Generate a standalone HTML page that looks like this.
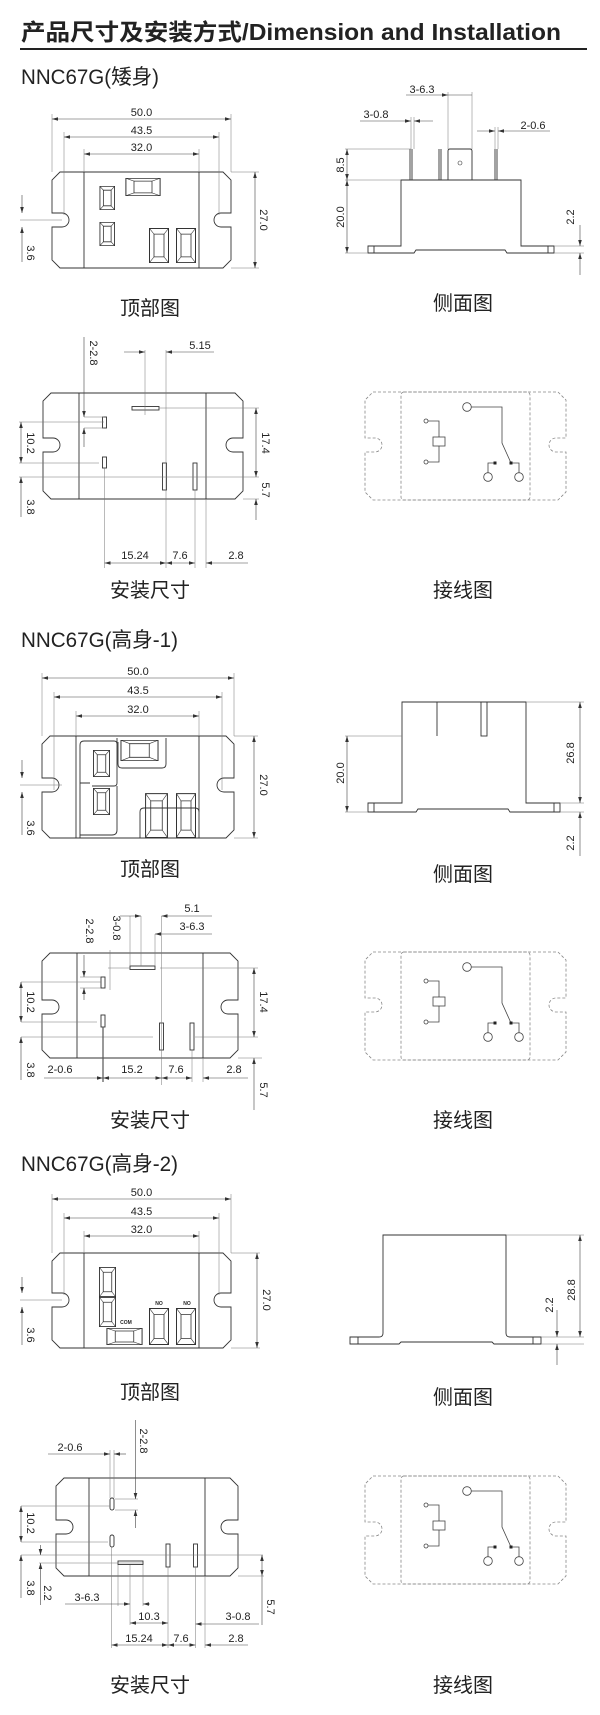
<!DOCTYPE html>
<html><head><meta charset="utf-8">
<style>
html,body{margin:0;padding:0;background:#fff;}
svg{display:block;}
text{font-family:"Liberation Sans","Noto Sans CJK SC",sans-serif;fill:#222;}
.o{fill:none;stroke:#333;stroke-width:0.9;}
.d{fill:none;stroke:#444;stroke-width:0.6;}
.e{fill:none;stroke:#777;stroke-width:0.5;}
.w{fill:none;stroke:#888;stroke-width:0.8;stroke-dasharray:3 2;}
.n{font-size:11px;}
.c{font-size:20px;text-anchor:middle;}
</style></head><body>
<svg width="600" height="1715" viewBox="0 0 600 1715" xmlns="http://www.w3.org/2000/svg">
<defs>
<marker id="a" viewBox="0 0 10 6" refX="10" refY="3" markerWidth="6" markerHeight="4" orient="auto-start-reverse" markerUnits="userSpaceOnUse"><path d="M0,0 L10,3 L0,6 Z" fill="#333"/></marker>
<symbol id="tab" viewBox="0 0 20 40" preserveAspectRatio="none">
<rect x="0.5" y="0.5" width="19" height="39" fill="none" stroke="#333" stroke-width="1" vector-effect="non-scaling-stroke"/>
<rect x="5" y="7" width="10" height="26" fill="none" stroke="#333" stroke-width="0.8" vector-effect="non-scaling-stroke"/>
<path d="M0.5,0.5 L5,7 M19.5,0.5 L15,7 M0.5,39.5 L5,33 M19.5,39.5 L15,33" stroke="#333" stroke-width="0.6" vector-effect="non-scaling-stroke"/>
</symbol>
<g id="wire">
<path class="w" d="M373,392 H558 L566,400 V438 H556 A7,7 0 0 0 556,452 H566 V492 L558,500 H373 L365,492 V452 H375 A7,7 0 0 0 375,438 H365 V400 Z"/>
<rect class="w" x="401" y="392" width="129" height="108" rx="3"/>
<g fill="none" stroke="#444" stroke-width="0.8">
<circle cx="467" cy="407" r="4.3"/>
<path d="M471.3,407 H502 V443 L511,463"/>
<circle cx="426" cy="421" r="2"/><circle cx="426" cy="462" r="2"/>
<path d="M428,421 H439 V437 M439,446 V462 H428"/>
<rect x="433" y="437" width="12" height="9"/>
<path d="M495,463 H488 V472.7 M511,463 H519 V472.7"/>
<circle cx="488" cy="477" r="4.3"/><circle cx="519" cy="477" r="4.3"/>
</g>
<rect x="493.5" y="461.5" width="3" height="3" fill="#222"/>
<rect x="509.5" y="461.5" width="3" height="3" fill="#222"/>
</g>
</defs>

<!-- Title -->
<text x="21" y="40" font-size="23" font-weight="bold" textLength="540" lengthAdjust="spacingAndGlyphs">产品尺寸及安装方式/Dimension and  Installation</text>
<line x1="20" y1="49" x2="587" y2="49" stroke="#222" stroke-width="2"/>

<!-- ============ Section 1 ============ -->
<text x="21" y="84" font-size="21" textLength="138" lengthAdjust="spacingAndGlyphs">NNC67G(矮身)</text>

<!-- top view 1 -->
<path class="o" d="M60,172 H223 L231,180 V213 H221 A7,7 0 0 0 221,227 H231 V260 L223,268 H60 L52,260 V227 H62 A7,7 0 0 0 62,213 H52 V180 Z"/>
<path class="o" d="M84,172 V268 M199,172 V268"/>
<use href="#tab" x="125" y="178" width="36" height="18" transform="rotate(0)"/>
<use href="#tab" x="99.5" y="186" width="15.5" height="24"/>
<use href="#tab" x="99.5" y="222" width="15.5" height="24"/>
<use href="#tab" x="149" y="228" width="20" height="35"/>
<use href="#tab" x="176" y="228" width="20" height="35"/>
<path class="e" d="M52,114 V172 M231,114 V172 M64,132 V215 M219,132 V215 M84,149 V172 M199,149 V172 M231,172 H259 M231,268 H259 M20,220 H62"/>
<line class="d" x1="52" y1="119" x2="231" y2="119" marker-start="url(#a)" marker-end="url(#a)"/>
<line class="d" x1="64" y1="137" x2="219" y2="137" marker-start="url(#a)" marker-end="url(#a)"/>
<line class="d" x1="84" y1="154" x2="199" y2="154" marker-start="url(#a)" marker-end="url(#a)"/>
<line class="d" x1="255" y1="172" x2="255" y2="268" marker-start="url(#a)" marker-end="url(#a)"/>
<line class="d" x1="22" y1="195" x2="22" y2="213" marker-end="url(#a)"/>
<line class="d" x1="22" y1="262" x2="22" y2="227" marker-end="url(#a)"/>
<text class="n" x="141.5" y="116" text-anchor="middle">50.0</text>
<text class="n" x="141.5" y="134" text-anchor="middle">43.5</text>
<text class="n" x="141.5" y="151" text-anchor="middle">32.0</text>
<text class="n" transform="translate(263,220) rotate(90)" text-anchor="middle" dominant-baseline="central">27.0</text>
<text class="n" transform="translate(30,253) rotate(90)" text-anchor="middle" dominant-baseline="central">3.6</text>

<!-- side view 1 -->
<path class="o" d="M368,246 H401 V180 H521 V246 H554 V253 H507 L505,250 H416 L414,253 H368 Z M374,246 V253 M548,246 V253"/>
<path class="o" d="M410,149 V180 M412,149 V180 M439,149 V180 M441,149 V180 M495,149 V180 M497,149 V180"/>
<path class="o" d="M448,180 V151 Q448,149 450,149 H470 Q472,149 472,151 V180"/>
<circle cx="460" cy="163" r="2" fill="none" stroke="#333" stroke-width="0.6"/>
<path class="e" d="M345,149 H411 M345,180 H401 M345,253 H368 M554,246 H584 M554,253 H584 M448,92 V149 M472,92 V149 M411,117 V149 M414,117 V149 M495,127 V149 M498,127 V149"/>
<line class="d" x1="347" y1="149" x2="347" y2="180" marker-start="url(#a)" marker-end="url(#a)"/>
<line class="d" x1="347" y1="180" x2="347" y2="253" marker-start="url(#a)" marker-end="url(#a)"/>
<line class="d" x1="406" y1="95" x2="448" y2="95" marker-end="url(#a)"/>
<line class="d" x1="472" y1="95" x2="448" y2="95"/>
<line class="d" x1="360" y1="121" x2="411" y2="121" marker-end="url(#a)"/>
<line class="d" x1="433" y1="121" x2="414" y2="121" marker-end="url(#a)"/>
<line class="d" x1="477" y1="131" x2="495" y2="131" marker-end="url(#a)"/>
<line class="d" x1="550" y1="131" x2="498" y2="131" marker-end="url(#a)"/>
<line class="d" x1="580" y1="225" x2="580" y2="246" marker-end="url(#a)"/>
<line class="d" x1="580" y1="275" x2="580" y2="253" marker-end="url(#a)"/>
<text class="n" x="422" y="93" text-anchor="middle">3-6.3</text>
<text class="n" x="376" y="118" text-anchor="middle">3-0.8</text>
<text class="n" x="533" y="129" text-anchor="middle">2-0.6</text>
<text class="n" transform="translate(341,165) rotate(-90)" text-anchor="middle" dominant-baseline="central">8.5</text>
<text class="n" transform="translate(341,217) rotate(-90)" text-anchor="middle" dominant-baseline="central">20.0</text>
<text class="n" transform="translate(571,217) rotate(-90)" text-anchor="middle" dominant-baseline="central">2.2</text>

<text class="c" x="150" y="315">顶部图</text>
<text class="c" x="463" y="310">侧面图</text>

<!-- install 1 -->
<path class="o" d="M51,393 H235 L243,401 V438 H233 A7,7 0 0 0 233,452 H243 V491 L235,499 H51 L43,491 V452 H53 A7,7 0 0 0 53,438 H43 V401 Z"/>
<path class="o" d="M79,393 V499 M206,393 V499"/>
<rect class="o" x="102.5" y="417" width="4" height="11"/>
<rect class="o" x="102.5" y="457" width="4" height="11"/>
<rect class="o" x="132" y="406.5" width="27" height="3.5"/>
<rect class="o" x="162.5" y="463" width="4" height="27"/>
<rect class="o" x="193" y="463" width="4" height="27"/>
<path class="e" d="M84,417 H104 M84,428 H104 M19,422 H104 M19,463 H99 M159,408 H259 M19,477 H259 M243,499 H259 M145,350 V415 M166,350 V568 M104.5,468 V568 M195,490 V568 M206,499 V568"/>
<line class="d" x1="84" y1="337" x2="84" y2="417" marker-end="url(#a)"/>
<line class="d" x1="84" y1="447" x2="84" y2="428" marker-end="url(#a)"/>
<line class="d" x1="124" y1="352" x2="145" y2="352" marker-end="url(#a)"/>
<line class="d" x1="214" y1="352" x2="166" y2="352" marker-end="url(#a)"/>
<line class="d" x1="256" y1="408" x2="256" y2="477" marker-start="url(#a)" marker-end="url(#a)"/>
<line class="d" x1="256" y1="520" x2="256" y2="499" marker-end="url(#a)"/>
<line class="d" x1="21" y1="422" x2="21" y2="463" marker-start="url(#a)" marker-end="url(#a)"/>
<line class="d" x1="21" y1="517" x2="21" y2="477" marker-end="url(#a)"/>
<line class="d" x1="104.5" y1="563" x2="166" y2="563" marker-start="url(#a)" marker-end="url(#a)"/>
<line class="d" x1="166" y1="563" x2="195" y2="563" marker-start="url(#a)" marker-end="url(#a)"/>
<line class="d" x1="248" y1="563" x2="206" y2="563" marker-end="url(#a)"/>
<text class="n" transform="translate(93,353) rotate(90)" text-anchor="middle" dominant-baseline="central">2-2.8</text>
<text class="n" x="200" y="349" text-anchor="middle">5.15</text>
<text class="n" transform="translate(265,443) rotate(90)" text-anchor="middle" dominant-baseline="central">17.4</text>
<text class="n" transform="translate(265,490) rotate(90)" text-anchor="middle" dominant-baseline="central">5.7</text>
<text class="n" transform="translate(30,443) rotate(90)" text-anchor="middle" dominant-baseline="central">10.2</text>
<text class="n" transform="translate(30,507) rotate(90)" text-anchor="middle" dominant-baseline="central">3.8</text>
<text class="n" x="135" y="559" text-anchor="middle">15.24</text>
<text class="n" x="180" y="559" text-anchor="middle">7.6</text>
<text class="n" x="236" y="559" text-anchor="middle">2.8</text>
<use href="#wire"/>
<text class="c" x="150" y="597">安装尺寸</text>
<text class="c" x="463" y="597">接线图</text>

<!-- ============ Section 2 ============ -->
<text x="21" y="647" font-size="21" textLength="157" lengthAdjust="spacingAndGlyphs">NNC67G(高身-1)</text>

<path class="o" d="M50,736 H226 L234,744 V778 H224 A7,7 0 0 0 224,792 H234 V830 L226,838 H50 L42,830 V792 H52 A7,7 0 0 0 52,778 H42 V744 Z"/>
<path class="o" d="M76,736 V838 M199,736 V838"/>
<path class="o" d="M80,838 V745 Q80,741 84,741 H114 Q117,741 117,744 V738 M80,783 H90 M117,741 V783 Q117,786 114,786 H92 M118,742 V764 Q118,768 122,768 H162 Q166,768 166,764 V738"/>
<path class="o" d="M140,838 V812 Q140,808 144,808 H195 Q199,808 199,812"/>
<path class="o" d="M117,786 V830 Q117,835 112,835 H80"/>
<use href="#tab" x="93" y="750" width="17" height="27"/>
<use href="#tab" x="93" y="788" width="17" height="27"/>
<use href="#tab" x="120" y="740" width="39" height="21"/>
<use href="#tab" x="145" y="793" width="23" height="45"/>
<use href="#tab" x="176" y="793" width="20" height="45"/>
<path class="e" d="M42,673 V736 M234,673 V736 M54,692 V790 M222,692 V790 M76,711 V736 M199,711 V736 M234,736 H258 M234,838 H258 M20,785 H62"/>
<line class="d" x1="42" y1="678" x2="234" y2="678" marker-start="url(#a)" marker-end="url(#a)"/>
<line class="d" x1="54" y1="697" x2="222" y2="697" marker-start="url(#a)" marker-end="url(#a)"/>
<line class="d" x1="76" y1="716" x2="199" y2="716" marker-start="url(#a)" marker-end="url(#a)"/>
<line class="d" x1="254" y1="736" x2="254" y2="838" marker-start="url(#a)" marker-end="url(#a)"/>
<line class="d" x1="22" y1="760" x2="22" y2="778" marker-end="url(#a)"/>
<line class="d" x1="22" y1="835" x2="22" y2="792" marker-end="url(#a)"/>
<text class="n" x="138" y="675" text-anchor="middle">50.0</text>
<text class="n" x="138" y="694" text-anchor="middle">43.5</text>
<text class="n" x="138" y="713" text-anchor="middle">32.0</text>
<text class="n" transform="translate(263,785) rotate(90)" text-anchor="middle" dominant-baseline="central">27.0</text>
<text class="n" transform="translate(30,828) rotate(90)" text-anchor="middle" dominant-baseline="central">3.6</text>

<!-- side view 2 -->
<path class="o" d="M368,803 H402 V702 H526 V803 H560 V812 H510 L508,809 H418 L416,812 H368 Z M374,803 V812 M554,803 V812 M437,702 V736"/>
<rect class="o" x="481" y="702" width="6" height="34"/>
<path class="e" d="M345,736 H402 M345,812 H368 M526,702 H584 M560,803 H584 M560,812 H584"/>
<line class="d" x1="347" y1="736" x2="347" y2="812" marker-start="url(#a)" marker-end="url(#a)"/>
<line class="d" x1="580" y1="702" x2="580" y2="803" marker-start="url(#a)" marker-end="url(#a)"/>
<line class="d" x1="580" y1="856" x2="580" y2="812" marker-end="url(#a)"/>
<text class="n" transform="translate(341,773) rotate(-90)" text-anchor="middle" dominant-baseline="central">20.0</text>
<text class="n" transform="translate(571,753) rotate(-90)" text-anchor="middle" dominant-baseline="central">26.8</text>
<text class="n" transform="translate(571,843) rotate(-90)" text-anchor="middle" dominant-baseline="central">2.2</text>
<text class="c" x="150" y="876">顶部图</text>
<text class="c" x="463" y="881">侧面图</text>

<!-- install 2 -->
<path class="o" d="M50,953 H230 L238,961 V1000 H228 A7,7 0 0 0 228,1014 H238 V1050 L230,1058 H50 L42,1050 V1014 H52 A7,7 0 0 0 52,1000 H42 V961 Z"/>
<path class="o" d="M77,953 V1058 M203,953 V1058"/>
<rect class="o" x="101" y="977" width="4" height="11"/>
<rect class="o" x="101" y="1015" width="4" height="12"/>
<rect class="o" x="130" y="966" width="25" height="3.5"/>
<rect class="o" x="159.5" y="1023" width="4" height="27"/>
<rect class="o" x="190" y="1023" width="4" height="27"/>
<path class="e" d="M108,968 H130 M80,977 H101 M80,988 H101 M110,950 V990 M130,916 V966 M141,916 V966 M155,934 V966 M161.5,916 V1085 M160,968 H258 M195,1037 H258 M21,982 H101 M21,1022 H97 M21,1037 H153 M238,1058 H262 M192,1050 V1082 M203,1058 V1082"/>
<line x1="103" y1="1027" x2="103" y2="1082" stroke="#555" stroke-width="1.2"/>
<line class="d" x1="84" y1="955" x2="84" y2="977" marker-end="url(#a)"/>
<line class="d" x1="84" y1="1000" x2="84" y2="988" marker-end="url(#a)"/>
<line class="d" x1="120" y1="916" x2="141" y2="916" marker-end="url(#a)"/>
<line class="d" x1="212" y1="916" x2="161.5" y2="916" marker-end="url(#a)"/>
<line class="d" x1="212" y1="934" x2="155" y2="934" marker-end="url(#a)"/>
<line class="d" x1="254" y1="968" x2="254" y2="1037" marker-start="url(#a)" marker-end="url(#a)"/>
<line class="d" x1="254" y1="1110" x2="254" y2="1058" marker-end="url(#a)"/>
<line class="d" x1="21" y1="982" x2="21" y2="1022" marker-start="url(#a)" marker-end="url(#a)"/>
<line class="d" x1="21" y1="1080" x2="21" y2="1037" marker-end="url(#a)"/>
<line class="d" x1="44" y1="1078" x2="103" y2="1078" marker-end="url(#a)"/>
<line class="d" x1="103" y1="1078" x2="161.5" y2="1078" marker-start="url(#a)" marker-end="url(#a)"/>
<line class="d" x1="161.5" y1="1078" x2="192" y2="1078" marker-start="url(#a)" marker-end="url(#a)"/>
<line class="d" x1="248" y1="1078" x2="203" y2="1078" marker-end="url(#a)"/>
<text class="n" x="192" y="912" text-anchor="middle">5.1</text>
<text class="n" x="192" y="930" text-anchor="middle">3-6.3</text>
<text class="n" transform="translate(116,928) rotate(90)" text-anchor="middle" dominant-baseline="central">3-0.8</text>
<text class="n" transform="translate(89,931) rotate(90)" text-anchor="middle" dominant-baseline="central">2-2.8</text>
<text class="n" transform="translate(263,1002) rotate(90)" text-anchor="middle" dominant-baseline="central">17.4</text>
<text class="n" transform="translate(263,1090) rotate(90)" text-anchor="middle" dominant-baseline="central">5.7</text>
<text class="n" transform="translate(30,1002) rotate(90)" text-anchor="middle" dominant-baseline="central">10.2</text>
<text class="n" transform="translate(30,1070) rotate(90)" text-anchor="middle" dominant-baseline="central">3.8</text>
<text class="n" x="60" y="1073" text-anchor="middle">2-0.6</text>
<text class="n" x="132" y="1073" text-anchor="middle">15.2</text>
<text class="n" x="176" y="1073" text-anchor="middle">7.6</text>
<text class="n" x="234" y="1073" text-anchor="middle">2.8</text>
<use href="#wire" transform="translate(0,560)"/>
<text class="c" x="150" y="1127">安装尺寸</text>
<text class="c" x="463" y="1127">接线图</text>

<!-- ============ Section 3 ============ -->
<text x="21" y="1171" font-size="21" textLength="157" lengthAdjust="spacingAndGlyphs">NNC67G(高身-2)</text>

<path class="o" d="M60,1253 H223 L231,1261 V1293 H221 A7,7 0 0 0 221,1307 H231 V1340 L223,1348 H60 L52,1340 V1307 H62 A7,7 0 0 0 62,1293 H52 V1261 Z"/>
<path class="o" d="M84,1253 V1348 M199,1253 V1348"/>
<use href="#tab" x="99" y="1267" width="17" height="30"/>
<use href="#tab" x="99" y="1297" width="17" height="30"/>
<use href="#tab" x="106" y="1328" width="37" height="17"/>
<use href="#tab" x="149" y="1308" width="20" height="37"/>
<use href="#tab" x="176" y="1308" width="20" height="37"/>
<text x="126" y="1324" font-size="5" text-anchor="middle" font-weight="bold">COM</text>
<text x="159" y="1305" font-size="5" text-anchor="middle" font-weight="bold">NO</text>
<text x="187" y="1305" font-size="5" text-anchor="middle" font-weight="bold">NO</text>
<path class="e" d="M52,1194 V1253 M231,1194 V1253 M64,1213 V1295 M219,1213 V1295 M84,1231 V1253 M199,1231 V1253 M231,1253 H260 M231,1348 H260 M20,1300 H62"/>
<line class="d" x1="52" y1="1199" x2="231" y2="1199" marker-start="url(#a)" marker-end="url(#a)"/>
<line class="d" x1="64" y1="1218" x2="219" y2="1218" marker-start="url(#a)" marker-end="url(#a)"/>
<line class="d" x1="84" y1="1236" x2="199" y2="1236" marker-start="url(#a)" marker-end="url(#a)"/>
<line class="d" x1="257" y1="1253" x2="257" y2="1348" marker-start="url(#a)" marker-end="url(#a)"/>
<line class="d" x1="22" y1="1277" x2="22" y2="1293" marker-end="url(#a)"/>
<line class="d" x1="22" y1="1345" x2="22" y2="1307" marker-end="url(#a)"/>
<text class="n" x="141.5" y="1196" text-anchor="middle">50.0</text>
<text class="n" x="141.5" y="1215" text-anchor="middle">43.5</text>
<text class="n" x="141.5" y="1233" text-anchor="middle">32.0</text>
<text class="n" transform="translate(266,1300) rotate(90)" text-anchor="middle" dominant-baseline="central">27.0</text>
<text class="n" transform="translate(30,1335) rotate(90)" text-anchor="middle" dominant-baseline="central">3.6</text>

<!-- side view 3 -->
<path class="o" d="M350,1337 H379 Q383,1337 383,1333 V1235 H506 V1333 Q506,1337 510,1337 H541 V1344 H494 L492,1342 H401 L399,1344 H350 Z M358,1337 V1344 M533,1337 V1344"/>
<path class="e" d="M506,1235 H584 M541,1337 H584 M541,1344 H584"/>
<line class="d" x1="580" y1="1235" x2="580" y2="1337" marker-start="url(#a)" marker-end="url(#a)"/>
<line class="d" x1="557" y1="1310" x2="557" y2="1337" marker-end="url(#a)"/>
<line class="d" x1="557" y1="1365" x2="557" y2="1344" marker-end="url(#a)"/>
<text class="n" transform="translate(572,1290) rotate(-90)" text-anchor="middle" dominant-baseline="central">28.8</text>
<text class="n" transform="translate(550,1305) rotate(-90)" text-anchor="middle" dominant-baseline="central">2.2</text>
<text class="c" x="150" y="1399">顶部图</text>
<text class="c" x="463" y="1404">侧面图</text>

<!-- install 3 -->
<path class="o" d="M64,1478 H230 L238,1486 V1520 H228 A7,7 0 0 0 228,1534 H238 V1568 L230,1576 H64 L56,1568 V1534 H66 A7,7 0 0 0 66,1520 H56 V1486 Z"/>
<path class="o" d="M89,1478 V1576 M205,1478 V1576"/>
<rect class="o" x="110" y="1498" width="4" height="12" rx="2"/>
<rect class="o" x="110" y="1535" width="4" height="12" rx="2"/>
<rect class="o" x="118" y="1561" width="25" height="3.5"/>
<rect class="o" x="166" y="1544" width="4" height="23"/>
<rect class="o" x="193.5" y="1544" width="4" height="23"/>
<path class="e" d="M110,1450 V1498 M114,1450 V1498 M115,1499 H138 M115,1510 H138 M21,1506 H110 M21,1542 H108 M21,1555 H263 M39,1563 H143 M118,1565 V1606 M130,1565 V1625 M143,1565 V1606 M238,1576 H264 M111.5,1547 V1648 M168,1567 V1648 M195.5,1567 V1648 M205,1576 V1648"/>
<line class="d" x1="48" y1="1454" x2="110" y2="1454" marker-end="url(#a)"/>
<line class="d" x1="126" y1="1454" x2="114" y2="1454" marker-end="url(#a)"/>
<line class="d" x1="135.5" y1="1420" x2="135.5" y2="1499" marker-end="url(#a)"/>
<line class="d" x1="135.5" y1="1528" x2="135.5" y2="1510" marker-end="url(#a)"/>
<line class="d" x1="21" y1="1506" x2="21" y2="1542" marker-start="url(#a)" marker-end="url(#a)"/>
<line class="d" x1="21" y1="1598" x2="21" y2="1555" marker-end="url(#a)"/>
<line class="d" x1="40.5" y1="1545" x2="40.5" y2="1555" marker-end="url(#a)"/>
<line class="d" x1="40.5" y1="1605" x2="40.5" y2="1563" marker-end="url(#a)"/>
<line class="d" x1="65" y1="1604" x2="130" y2="1604" marker-end="url(#a)"/>
<line class="d" x1="150" y1="1604" x2="143" y2="1604" marker-end="url(#a)"/>
<line class="d" x1="130" y1="1623" x2="168" y2="1623" marker-start="url(#a)" marker-end="url(#a)"/>
<line class="d" x1="259" y1="1624" x2="195.5" y2="1624" marker-end="url(#a)"/>
<line class="d" x1="262" y1="1555" x2="262" y2="1576" marker-start="url(#a)" marker-end="url(#a)"/>
<line class="d" x1="262" y1="1576" x2="262" y2="1625"/>
<line class="d" x1="111.5" y1="1645" x2="168" y2="1645" marker-start="url(#a)" marker-end="url(#a)"/>
<line class="d" x1="168" y1="1645" x2="195.5" y2="1645" marker-start="url(#a)" marker-end="url(#a)"/>
<line class="d" x1="248" y1="1645" x2="205" y2="1645" marker-end="url(#a)"/>
<text class="n" x="70" y="1451" text-anchor="middle">2-0.6</text>
<text class="n" transform="translate(143,1441) rotate(90)" text-anchor="middle" dominant-baseline="central">2-2.8</text>
<text class="n" transform="translate(30,1523) rotate(90)" text-anchor="middle" dominant-baseline="central">10.2</text>
<text class="n" transform="translate(30,1588) rotate(90)" text-anchor="middle" dominant-baseline="central">3.8</text>
<text class="n" transform="translate(47,1593) rotate(90)" text-anchor="middle" dominant-baseline="central">2.2</text>
<text class="n" transform="translate(270,1607) rotate(90)" text-anchor="middle" dominant-baseline="central">5.7</text>
<text class="n" x="87" y="1601" text-anchor="middle">3-6.3</text>
<text class="n" x="149" y="1620" text-anchor="middle">10.3</text>
<text class="n" x="238" y="1620" text-anchor="middle">3-0.8</text>
<text class="n" x="139" y="1642" text-anchor="middle">15.24</text>
<text class="n" x="181" y="1642" text-anchor="middle">7.6</text>
<text class="n" x="236" y="1642" text-anchor="middle">2.8</text>
<use href="#wire" transform="translate(0,1084)"/>
<text class="c" x="150" y="1692">安装尺寸</text>
<text class="c" x="463" y="1692">接线图</text>
</svg>
</body></html>
